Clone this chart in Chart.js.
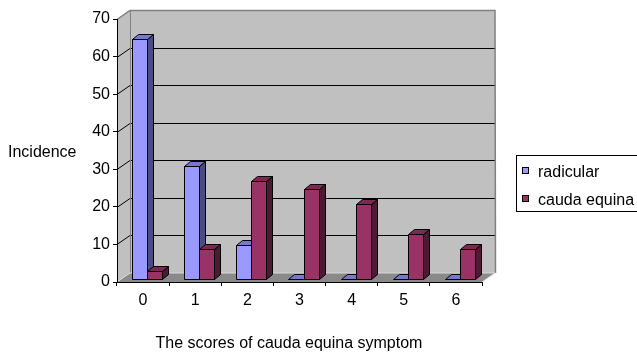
<!DOCTYPE html>
<html>
<head>
<meta charset="utf-8">
<script src="https://cdn.jsdelivr.net/npm/chart.js@4/dist/chart.umd.min.js"></script>
<style>
  html, body { margin: 0; padding: 0; background: #ffffff; }
  canvas { display: block; }
</style>
</head>
<body>
<canvas id="chart" width="637" height="352"></canvas>
<script>
// Scores on the category axis
const categories = ['0', '1', '2', '3', '4', '5', '6'];
// Incidence per score for each group
const radicular = [64, 30, 9, 0, 0, 0, 0];
const caudaEquina = [2, 8, 26, 24, 20, 12, 8];
// Value axis
const yMin = 0;
const yMax = 70;
const yStep = 10;

const FONT = '"Liberation Sans", Arial, sans-serif';

// Colours of each series: front, side and top faces
const palette = [
  { front: '#9999ff', side: '#4c4c80', top: '#7777cc' },
  { front: '#993366', side: '#4d1a33', top: '#7a2952' }
];

// Depth of the box (walls/floor) and of the columns
const WALL = { dx: 13, dy: -9 };
const BAR_SHIFT = { dx: 4, dy: -3 };
const BAR_DEPTH = { dx: 6, dy: -5 };

function poly(ctx, pts, fill, stroke) {
  ctx.beginPath();
  ctx.moveTo(pts[0][0], pts[0][1]);
  for (let i = 1; i < pts.length; i++) ctx.lineTo(pts[i][0], pts[i][1]);
  ctx.closePath();
  if (fill) { ctx.fillStyle = fill; ctx.fill(); }
  if (stroke) { ctx.strokeStyle = stroke; ctx.lineWidth = 1; ctx.stroke(); }
}

const box3d = {
  id: 'box3d',
  beforeDraw(chart) {
    const ctx = chart.ctx;
    const { left: L, right: R, top: T, bottom: B } = chart.chartArea;
    const y = chart.scales.y;
    const dx = WALL.dx, dy = WALL.dy;
    ctx.save();
    // side wall
    poly(ctx, [[L, T], [L + dx, T + dy], [L + dx, B + dy], [L, B]], '#c0c0c0');
    // back wall
    poly(ctx, [[L + dx, T + dy], [R + dx, T + dy], [R + dx, B + dy], [L + dx, B + dy]], '#c0c0c0');
    // floor
    poly(ctx, [[L, B], [R, B], [R + dx, B + dy], [L + dx, B + dy]], '#8a8a8a');

    // gridlines wrapping the side and back walls
    ctx.lineWidth = 1;
    for (let v = yMin + yStep; v < yMax; v += yStep) {
      const py = Math.round(y.getPixelForValue(v)) + 0.5;
      ctx.strokeStyle = '#000000';
      ctx.beginPath();
      ctx.moveTo(L, py);
      ctx.lineTo(L + dx, py + dy);
      ctx.lineTo(R + dx + 0.5, py + dy);
      ctx.stroke();
    }
    // wall edges
    ctx.strokeStyle = '#808080';
    ctx.lineWidth = 1.5;
    ctx.beginPath();
    ctx.moveTo(L, T + 0.5);
    ctx.lineTo(L + dx, T + dy + 0.5);
    ctx.lineTo(R + dx, T + dy + 0.5);
    ctx.lineTo(R + dx + 0.5, B + dy);
    ctx.stroke();
    ctx.lineWidth = 1;
    ctx.beginPath();
    ctx.moveTo(L + dx + 0.5, T + dy);
    ctx.lineTo(L + dx + 0.5, B + dy);
    ctx.stroke();
    // floor edges
    ctx.strokeStyle = '#d8d8d8';
    ctx.beginPath();
    ctx.moveTo(L, B);
    ctx.lineTo(L + dx, B + dy);
    ctx.lineTo(R + dx, B + dy);
    ctx.lineTo(R, B);
    ctx.stroke();
    ctx.restore();
  },
  beforeDatasetsDraw(chart) {
    const ctx = chart.ctx;
    const metas = chart.data.datasets.map((d, i) => chart.getDatasetMeta(i));
    ctx.save();
    ctx.translate(BAR_SHIFT.dx, BAR_SHIFT.dy);
    ctx.lineJoin = 'miter';
    const n = chart.data.labels.length;
    for (let i = 0; i < n; i++) {
      metas.forEach((meta, di) => {
        const el = meta.data[i];
        if (!el) return;
        const p = el.getProps(['x', 'y', 'base', 'width'], true);
        const c = palette[di];
        const x0 = Math.round(p.x - p.width / 2) + 0.5;
        const x1 = Math.round(p.x + p.width / 2) + 0.5;
        const yt = Math.round(p.y) + 0.5;
        const yb = Math.round(p.base) + 0.5;
        const ddx = BAR_DEPTH.dx, ddy = BAR_DEPTH.dy;
        // front face
        if (yb - yt > 0) {
          poly(ctx, [[x0, yt], [x1, yt], [x1, yb], [x0, yb]], c.front, '#000000');
          // side face
          poly(ctx, [[x1, yt], [x1 + ddx, yt + ddy], [x1 + ddx, yb + ddy], [x1, yb]], c.side, '#000000');
        }
        // top face
        poly(ctx, [[x0, yt], [x0 + ddx, yt + ddy], [x1 + ddx, yt + ddy], [x1, yt]], c.top, '#000000');
      });
    }
    ctx.restore();
    return false;
  },
  afterDraw(chart) {
    const ctx = chart.ctx;
    ctx.save();
    ctx.fillStyle = '#000000';
    ctx.font = '16px ' + FONT;
    ctx.textBaseline = 'alphabetic';
    // value axis caption
    ctx.textAlign = 'left';
    ctx.fillText('Incidence', 8, 157);
    // category axis caption
    ctx.textAlign = 'center';
    ctx.fillText('The scores of cauda equina symptom', 289, 348);

    // legend
    ctx.fillStyle = '#ffffff';
    ctx.fillRect(516.5, 155.5, 130, 56);
    ctx.strokeStyle = '#000000';
    ctx.lineWidth = 1;
    ctx.strokeRect(516.5, 155.5, 130, 56);
    const rows = [171, 199];
    chart.data.datasets.forEach((ds, i) => {
      const cy = rows[i];
      ctx.fillStyle = palette[i].front;
      ctx.fillRect(522, cy - 4, 7, 7);
      ctx.strokeStyle = '#000000';
      ctx.strokeRect(522.5, cy - 3.5, 6, 6);
      ctx.fillStyle = '#000000';
      ctx.textAlign = 'left';
      ctx.fillText(ds.label, 538, cy + 5.5);
    });
    ctx.restore();
  }
};

new Chart(document.getElementById('chart'), {
  type: 'bar',
  data: {
    labels: categories,
    datasets: [
      { label: 'radicular', data: radicular, backgroundColor: palette[0].front },
      { label: 'cauda equina', data: caudaEquina, backgroundColor: palette[1].front }
    ]
  },
  options: {
    responsive: false,
    animation: false,
    devicePixelRatio: 1,
    layout: { padding: { left: 0, top: 19, right: 155, bottom: 0 } },
    datasets: { bar: { categoryPercentage: 0.58, barPercentage: 1.0 } },
    plugins: {
      legend: { display: false },
      tooltip: { enabled: false },
      title: { display: false }
    },
    scales: {
      x: {
        grid: { drawOnChartArea: false, drawTicks: true, tickLength: 4, color: '#000000', offset: true },
        border: { display: true, color: '#000000', width: 1 },
        ticks: { color: '#000000', font: { family: FONT, size: 16 }, padding: 5, maxRotation: 0 },
        afterFit(scale) { scale.height = 70; }
      },
      y: {
        min: yMin,
        max: yMax,
        grid: { drawOnChartArea: false, drawTicks: true, tickLength: 4, color: '#000000' },
        border: { display: true, color: '#000000', width: 1 },
        ticks: { stepSize: yStep, color: '#000000', font: { family: FONT, size: 16 }, padding: 3 },
        afterFit(scale) { scale.width = 117; }
      }
    }
  },
  plugins: [box3d]
});
</script>
</body>
</html>
